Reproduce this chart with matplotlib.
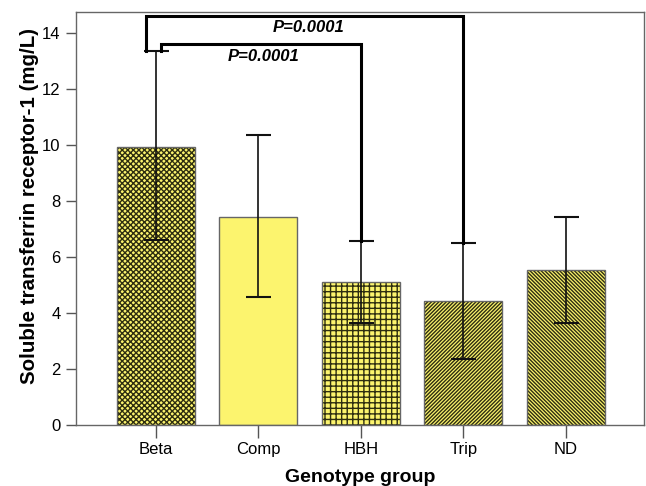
import matplotlib
matplotlib.use("Agg")
import matplotlib.pyplot as plt

plt.rcParams['font.family'] = ['Liberation Sans', 'DejaVu Sans']
plt.rcParams['hatch.linewidth'] = 1.0

groups = ["Beta", "Comp", "HBH", "Trip", "ND"]
means = [9.93, 7.43, 5.10, 4.43, 5.54]
upper = [13.35, 10.34, 6.57, 6.50, 7.43]
lower = [6.60, 4.57, 3.64, 2.36, 3.64]
hatches = ["x" * 6, "", "+++", "/" * 9, "\\" * 9]
p_labels = ["P=0.0001", "P=0.0001"]

fig = plt.figure(figsize=(6.46, 4.86), dpi=100)
ax = fig.add_axes([76 / 646, 61 / 486, 568 / 646, 413 / 486])

x = list(range(len(groups)))
yerr = [[m - l for m, l in zip(means, lower)], [u - m for m, u in zip(means, upper)]]

for xi, m, h in zip(x, means, hatches):
    ax.bar(xi, m, width=0.76, color="#FCF46E", edgecolor="#2e2e10" if h else "#666666",
           hatch=h if h else None, linewidth=0 if h else 1.0, zorder=2)
    if h:
        ax.bar(xi, m, width=0.76, color="none", edgecolor="#666666", linewidth=1.0, zorder=3)

ax.errorbar(x, means, yerr=yerr, fmt="none", ecolor="#111111", elinewidth=1.2,
            capsize=9, capthick=1.5, zorder=4)

# significance brackets
bl = 2.2
ax.plot([-0.095, -0.095, 3.0, 3.0], [upper[0], 14.61, 14.61, upper[3]],
        color="black", lw=bl, solid_joinstyle="miter", zorder=5)
ax.plot([0.05, 0.05, 2.0, 2.0], [upper[0], 13.61, 13.61, upper[2]],
        color="black", lw=bl, solid_joinstyle="miter", zorder=5)
ax.text(1.494, 14.18, p_labels[0], ha="center", va="center", fontsize=12,
        fontweight="bold", fontstyle="italic")
ax.text(1.05, 13.17, p_labels[1], ha="center", va="center", fontsize=12,
        fontweight="bold", fontstyle="italic")

ax.set_xlim(-0.777, 4.76)
ax.set_ylim(0, 14.75)
ax.set_yticks([0, 2, 4, 6, 8, 10, 12, 14])
ax.set_xticks(x)
ax.set_xticklabels(groups, fontsize=12)
ax.tick_params(axis="y", labelsize=12, length=7, width=1, color="#555555", pad=4)
ax.tick_params(axis="x", length=9, width=1, color="#555555", pad=3)
for s in ax.spines.values():
    s.set_color("#666666")
    s.set_linewidth(1.0)

ax.set_xlabel("Genotype group", fontsize=14, fontweight="bold", labelpad=9)
ax.set_ylabel("Soluble transferrin receptor-1 (mg/L)", fontsize=14.8, fontweight="bold")
ax.yaxis.set_label_coords(-0.066, 0.53)

fig.savefig("out.png", dpi=100)
